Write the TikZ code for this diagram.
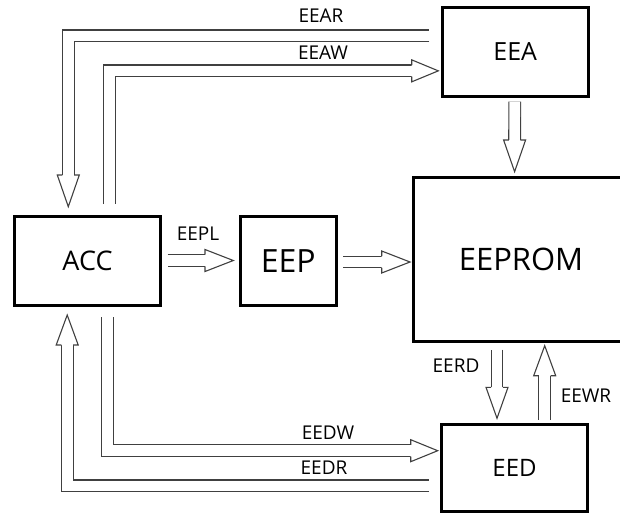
\documentclass[tikz,border=0pt]{standalone}
\usepackage{fontspec}
\setmainfont{Open Sans}
\usetikzlibrary{calc}
\tikzset{
 box/.style={draw=black, line width=3pt, outer sep=0pt, inner sep=0pt, fill=white},
 shaft/.style={draw=black!75, line width=1.1pt, double=white, double distance=10.6pt},
 arrline/.style={draw=black!75, line width=1.1pt, line join=miter},
 lbl/.style={font=\fontsize{19}{19}\selectfont, inner sep=0pt, text=black},
}
\newcommand\blkhead[2]{%
 \fill[white] ($(#1)!11pt!90:(#2)$) -- (#2) -- ($(#1)!11pt!-90:(#2)$) -- cycle;
 \draw[arrline] ($(#1)!5.85pt!90:(#2)$) -- ($(#1)!11pt!90:(#2)$) -- (#2) -- ($(#1)!11pt!-90:(#2)$) -- ($(#1)!5.85pt!-90:(#2)$);
}
\begin{document}
\begin{tikzpicture}[x=1pt,y=-1pt]
\useasboundingbox (0,0) rectangle (620,514);
% boxes
\node[box, minimum width=146pt, minimum height=89pt, font=\fontsize{27}{27}\selectfont] (acc) at (87.5,261) {ACC};
\node[box, minimum width=96.5pt, minimum height=89pt, font=\fontsize{32}{32}\selectfont] (eep) at (288.25,261) {EEP};
\node[box, minimum width=215pt, minimum height=164pt, font=\fontsize{31}{31}\selectfont] (eeprom) at (521,259.5) {EEPROM};
\node[box, minimum width=146.5pt, minimum height=89pt, font=\fontsize{25}{25}\selectfont] (eea) at (515.25,52) {EEA};
\node[box, minimum width=146pt, minimum height=86.5pt, font=\fontsize{24}{24}\selectfont] (eed) at (514.5,467.75) {EED};
% labels
\node[lbl] (leear) at (321,16) {EEAR};
\node[lbl] (leeaw) at (323,53) {EEAW};
\node[lbl] (leepl) at (198,234) {EEPL};
\node[lbl] (leerd) at (456,366) {EERD};
\node[lbl] (leewr) at (586,396) {EEWR};
\node[lbl] (leedw) at (328,433) {EEDW};
\node[lbl] (leedr) at (324,468) {EEDR};
% EEAR: EEA -> ACC
\coordinate (eearS) at ($(eea.west)+(-12.7,-16.15)$);
\coordinate (eearT) at ($(acc.north)+(-19.2,-9.8)$);
\coordinate (eearB) at ($(eearT)+(0,-31.7)$);
\draw[shaft] (eearS) -| (eearB);
\blkhead{eearB}{eearT}
% EEAW: ACC -> EEA
\coordinate (eeawS) at ($(acc.north)+(21.7,-12.5)$);
\coordinate (eeawT) at ($(eea.west)+(-3.7,18.85)$);
\coordinate (eeawB) at ($(eeawT)+(-26.6,0)$);
\draw[shaft] (eeawS) |- (eeawB);
\blkhead{eeawB}{eeawT}
% EEPL: ACC -> EEP
\coordinate (eeplS) at ($(acc.east)+(7.2,-0.5)$);
\coordinate (eeplT) at ($(eep.west)+(-6.7,-0.5)$);
\coordinate (eeplB) at ($(eeplT)+(-28.3,0)$);
\draw[shaft] (eeplS) -- (eeplB);
\blkhead{eeplB}{eeplT}
% EEP -> EEPROM
\coordinate (epS) at ($(eep.east)+(6.8,1)$);
\coordinate (epT) at ($(eeprom.west)+(-3.5,2.5)$);
\coordinate (epB) at ($(epT)+(-28.3,0)$);
\draw[shaft] (epS) -- (epB);
\blkhead{epB}{epT}
% EEA -> EEPROM
\coordinate (eaS) at ($(eea.south)+(-0.5,5.2)$);
\coordinate (eaT) at ($(eeprom.north)+(-6.4,-5.8)$);
\coordinate (eaB) at ($(eaT)+(0,-31.7)$);
\draw[shaft] (eaS) -- (eaB);
\blkhead{eaB}{eaT}
% EERD: EEPROM -> EED
\coordinate (erdS) at ($(eeprom.south)+(-24,8.2)$);
\coordinate (erdT) at ($(eed.north)+(-17.5,-6.2)$);
\coordinate (erdB) at ($(erdT)+(0,-31)$);
\draw[shaft] (erdS) -- (erdB);
\blkhead{erdB}{erdT}
% EEWR: EED -> EEPROM
\coordinate (ewrS) at ($(eed.north)+(30.2,-4.8)$);
\coordinate (ewrT) at ($(eeprom.south)+(23.7,4.2)$);
\coordinate (ewrB) at ($(ewrT)+(0,30)$);
\draw[shaft] (ewrS) -- (ewrB);
\blkhead{ewrB}{ewrT}
% EEDW: ACC -> EED
\coordinate (edwS) at ($(acc.south)+(20,11.8)$);
\coordinate (edwT) at ($(eed.west)+(-3.8,-17.05)$);
\coordinate (edwB) at ($(edwT)+(-27,0)$);
\draw[shaft] (edwS) |- (edwB);
\blkhead{edwB}{edwT}
% EEDR: EED -> ACC
\coordinate (edrS) at ($(eed.west)+(-12.5,18.1)$);
\coordinate (edrT) at ($(acc.south)+(-20.3,9.5)$);
\coordinate (edrB) at ($(edrT)+(0,30)$);
\draw[shaft] (edrS) -| (edrB);
\blkhead{edrB}{edrT}
\end{tikzpicture}
\end{document}
